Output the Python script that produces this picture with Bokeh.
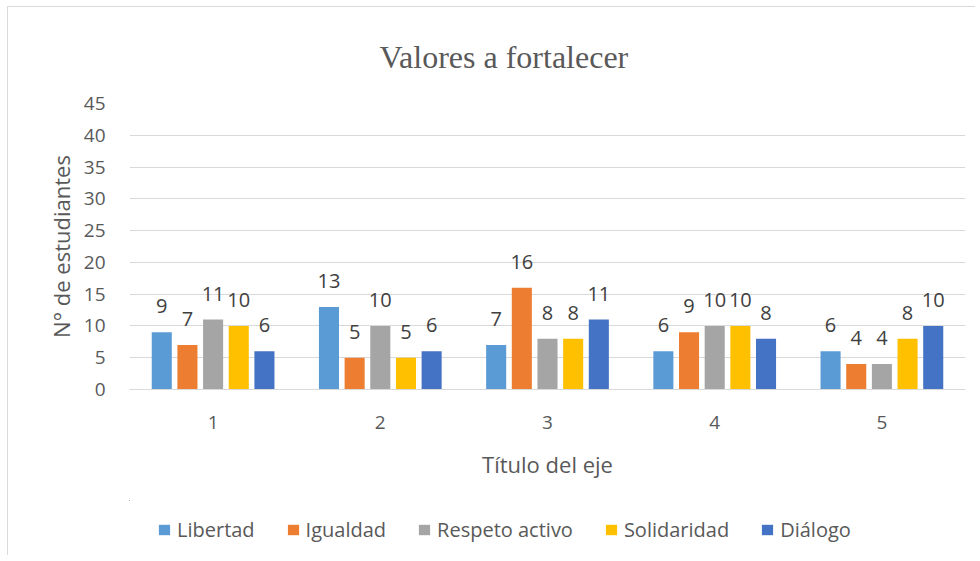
from bokeh.plotting import figure
from bokeh.layouts import column
from bokeh.models import (ColumnDataSource, Range1d, FixedTicker, LabelSet, Legend, LegendItem)
from bokeh.transform import dodge
from bokeh.core.properties import value
from bokeh.embed import file_html
from bokeh.resources import INLINE

categories = [1, 2, 3, 4, 5]
series_names = ["Libertad", "Igualdad", "Respeto activo", "Solidaridad", "Diálogo"]
libertad = [9, 13, 7, 6, 6]
igualdad = [7, 5, 16, 9, 4]
respeto = [11, 10, 8, 10, 4]
solidaridad = [10, 5, 8, 10, 8]
dialogo = [6, 6, 11, 8, 10]
colors = ["#5B9BD5", "#ED7D31", "#A5A5A5", "#FFC000", "#4472C4"]
y_ticks = [0, 5, 10, 15, 20, 25, 30, 35, 40, 45]

series_values = [libertad, igualdad, respeto, solidaridad, dialogo]
keys = ["s0", "s1", "s2", "s3", "s4"]

data = {"cat": categories}
for k, vals in zip(keys, series_values):
    data[k] = vals
    data[k + "_txt"] = [str(v) for v in vals]
source = ColumnDataSource(data)

FONT = "Open Sans"
TXT = "#595959"
offsets = [-0.307, -0.1535, 0.0, 0.1535, 0.307]

# ---- main chart ----
p = figure(width=967, height=493, output_backend="svg", toolbar_location=None,
           x_range=Range1d(0.5, 5.5), y_range=Range1d(0, 45),
           min_border_left=121, min_border_right=10, min_border_top=96,
           min_border_bottom=111)
p.outline_line_color = None
p.background_fill_color = "white"
p.border_fill_color = "white"

p.title.text = "Valores a fortalecer"
p.title.text_font = "Liberation Serif"
p.title.text_font_size = "32px"
p.title.text_font_style = "normal"
p.title.text_color = TXT
p.title.align = "left"
p.title.offset = 250
p.title.standoff = 58

for k, col, off in zip(keys, colors, offsets):
    p.vbar(x=dodge("cat", off, range=p.x_range), top=k, width=0.12, bottom=0,
           source=source, fill_color=col, line_color=None)
    lab = LabelSet(x=dodge("cat", off, range=p.x_range), y=k, text=k + "_txt", source=source,
                   text_align="center", text_baseline="bottom", y_offset=19,
                   text_font=value(FONT), text_font_size="20px", text_color="#404040")
    p.add_layout(lab)

p.xaxis.ticker = FixedTicker(ticks=categories)
p.yaxis.ticker = FixedTicker(ticks=y_ticks)
for ax in (p.xaxis, p.yaxis):
    ax.major_tick_line_color = None
    ax.minor_tick_line_color = None
    ax.major_label_text_font = FONT
    ax.major_label_text_font_size = "19px"
    ax.major_label_text_color = TXT
    ax.axis_label_text_font = FONT
    ax.axis_label_text_font_size = "22px"
    ax.axis_label_text_font_style = "normal"
    ax.axis_label_text_color = TXT
p.yaxis.axis_line_color = None
p.xaxis.axis_line_color = "#D9D9D9"
p.yaxis.axis_label = "N° de estudiantes"
p.xaxis.axis_label = "Título del eje"
p.yaxis.major_label_standoff = 18
p.yaxis.axis_label_standoff = 5
p.xaxis.major_label_standoff = 20
p.xaxis.axis_label_standoff = 17

p.xgrid.grid_line_color = None
p.ygrid.grid_line_color = "#D9D9D9"
p.ygrid.grid_line_width = 1

# ---- legend strip (same series; its ranges keep the bars out of view) ----
lg = figure(width=967, height=55, output_backend="svg", toolbar_location=None,
            x_range=Range1d(100, 101), y_range=Range1d(-1000, -999),
            x_axis_type=None, y_axis_type=None,
            min_border_left=0, min_border_right=0, min_border_top=0, min_border_bottom=0)
lg.outline_line_color = None
lg.grid.grid_line_color = None
lg.border_fill_color = "white"
lg.background_fill_color = "white"
items = []
for k, name, col, off in zip(keys, series_names, colors, offsets):
    r = lg.vbar(x=dodge("cat", off, range=lg.x_range), top=k, width=0.12, bottom=0,
                source=source, fill_color=col, line_color=None)
    items.append(LegendItem(label=name, renderers=[r]))
legend = Legend(items=items, orientation="horizontal", location=(28, 12),
                label_text_font=FONT, label_text_font_size="20px", label_text_color=TXT,
                glyph_width=14, glyph_height=13, label_standoff=6, spacing=31,
                label_height=24, padding=0, margin=0,
                border_line_color=None, background_fill_alpha=0)
lg.add_layout(legend, "center")

layout = column(p, lg, spacing=0, margin=(6, 0, 0, 7),
                styles={"border-left": "1px solid #d9d9d9", "border-top": "1px solid #d9d9d9"})
open("out.html", "w").write(file_html(layout, INLINE))
